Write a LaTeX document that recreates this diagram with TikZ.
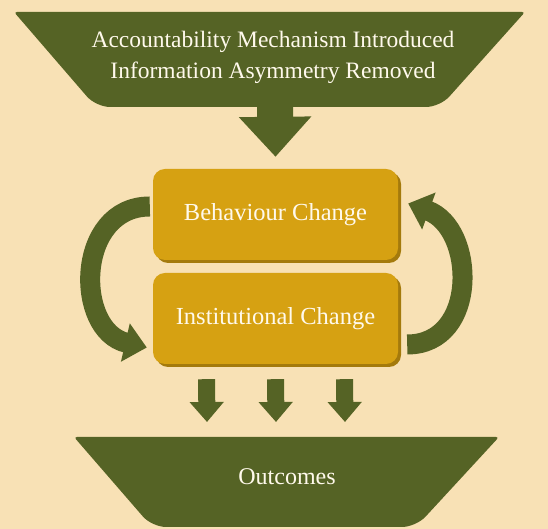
\documentclass[tikz,border=0pt]{standalone}
\usepackage{fontspec}
\setmainfont{Liberation Serif}
\usetikzlibrary{arrows.meta,shadows}

\definecolor{bgwheat}{HTML}{F8E1B5}
\definecolor{leafgreen}{HTML}{556325}
\definecolor{gold}{HTML}{D6A112}
\definecolor{goldshade}{HTML}{A47A0C}
\definecolor{cream}{HTML}{FFF9EC}

\tikzset{
  changebox/.style={fill=gold, rounded corners=12pt, minimum width=245pt,
    minimum height=91pt, text=cream, font=\fontsize{24.5}{28}\selectfont,
    drop shadow={shadow xshift=3pt, shadow yshift=-3pt, fill=goldshade, opacity=1}},
  bannertext/.style={text=cream, align=center, font=\fontsize{23.5}{31}\selectfont},
  bigarrow/.style={leafgreen, line width=36pt, -{Triangle[length=40pt,width=70pt]}},
  smallarrow/.style={leafgreen, line width=17pt, -{Triangle[length=20pt,width=33pt]}},
  looparrow/.style={leafgreen, line width=20pt, -{Triangle[length=22pt,width=38pt]}}
}

\begin{document}
\begin{tikzpicture}[x=1pt,y=1pt]
      \fill [bgwheat] (0,0) rectangle (548,529);

      % banners
      \fill [leafgreen, rounded corners=3pt]
      (14,517) -- (525,517) [rounded corners=14pt] -- (440,422) -- (96,422)
      [rounded corners=3pt] -- cycle;
      \fill [leafgreen, rounded corners=3pt]
      (74,92) -- (499,92) [rounded corners=14pt] -- (416,2) -- (152,2)
      [rounded corners=3pt] -- cycle;

      \node [bannertext] (accnt) at (273,472)
      {Accountability Mechanism Introduced\\Information Asymmetry Removed};
      \node [bannertext, font=\fontsize{24}{28}\selectfont] (outcm) at (287,52) {Outcomes};
      \coordinate (accbase) at (275,422);
      \coordinate (outtop) at (276,92);

      % boxes
      \node [changebox] (beh) at (275.5,314.5) {Behaviour Change};
      \node [changebox] (inst) at (275.5,210.5) {Institutional Change};

      % arrows
      \draw [bigarrow] (accbase) -- ([yshift=12pt]beh.north);
      \draw [looparrow] ([xshift=-3pt,yshift=8pt]beh.west)
      to [out=180,in=167,looseness=1.35] ([xshift=-6pt,yshift=-29pt]inst.west);
      \draw [looparrow] ([xshift=9pt,yshift=-26pt]inst.east)
      to [out=0,in=-20,looseness=1.3] ([xshift=10pt,yshift=11pt]beh.east);
      \foreach \dx in {-69,0,69}
        \draw [smallarrow] ([xshift=\dx pt,yshift=-15pt]inst.south)
        -- ([xshift=\dx pt,yshift=15pt]outtop);
\end{tikzpicture}
\end{document}
